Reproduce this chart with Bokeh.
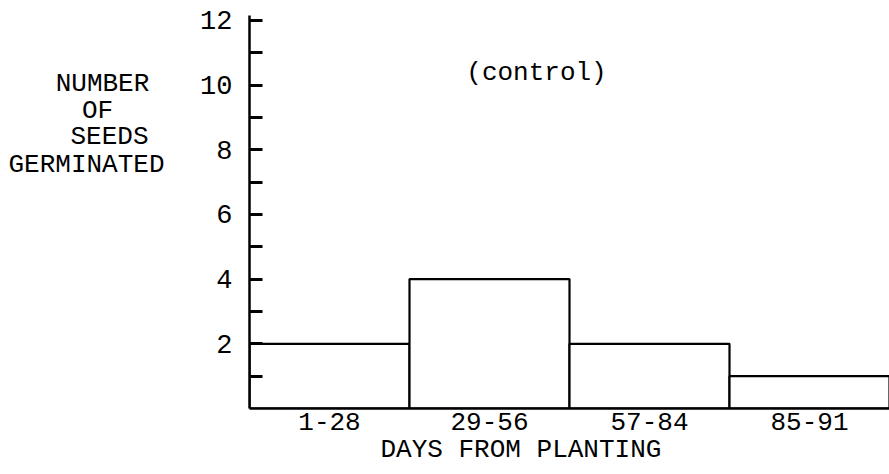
from bokeh.plotting import figure
from bokeh.layouts import row
from bokeh.models import Label, FixedTicker, Range1d, Title
from bokeh.core.properties import value
from bokeh.embed import file_html
from bokeh.resources import INLINE

# ---- data ----
categories = ["1-28", "29-56", "57-84", "85-91"]
seeds_germinated = [2, 4, 2, 1]
y_tick_labels = [2, 4, 6, 8, 10, 12]
y_minor_ticks = [1, 3, 5, 7, 9, 11]
title_text = "(control)"
x_title = "DAYS FROM PLANTING"
y_title_lines = ["NUMBER", "OF", "SEEDS", "GERMINATED"]

FONT = "Liberation Mono"
SIDE_W = 185
TOTAL_W = 889
H = 474

positions = list(range(len(categories)))

# ---- main chart ----
p = figure(width=TOTAL_W - SIDE_W, height=H,
           x_range=Range1d(-0.5, 3.5), y_range=Range1d(0, 12.15),
           output_backend="svg", toolbar_location=None,
           min_border_left=64, min_border_right=0,
           min_border_top=15, min_border_bottom=66)
p.outline_line_color = None
p.grid.visible = False
p.background_fill_color = "white"
p.border_fill_color = "white"

p.vbar(x=positions, top=seeds_germinated, bottom=0, width=1.0,
       fill_color="white", line_color="black", line_width=2.2)

# x axis
xa = p.xaxis[0]
xa.ticker = FixedTicker(ticks=positions)
xa.major_label_overrides = {i: c for i, c in zip(positions, categories)}
xa.major_tick_in = 0
xa.major_tick_out = 0
xa.minor_tick_in = 0
xa.minor_tick_out = 0
xa.axis_line_width = 2.5
xa.axis_line_color = "black"
xa.major_label_text_font = FONT
xa.major_label_text_font_size = "26px"
xa.major_label_text_color = "black"
xa.major_label_standoff = 4

# x title below the axis
p.add_layout(Title(text=x_title, align="left", offset=131, standoff=0,
                   text_font=FONT, text_font_size="26px",
                   text_font_style="normal", text_color="black"), "below")

# y axis
ya = p.yaxis[0]
ya.ticker = FixedTicker(ticks=y_tick_labels, minor_ticks=y_minor_ticks)
ya.major_tick_in = 13
ya.major_tick_out = 0
ya.minor_tick_in = 13
ya.minor_tick_out = 0
ya.major_tick_line_width = 3
ya.minor_tick_line_width = 3
ya.major_tick_line_color = "black"
ya.minor_tick_line_color = "black"
ya.axis_line_width = 2.5
ya.axis_line_color = "black"
ya.major_label_text_font = FONT
ya.major_label_text_font_size = "27px"
ya.major_label_text_color = "black"
ya.major_label_standoff = 17

# "(control)" inside the frame
def dx(px):
    return (px - 249) / (640 / 4.0) - 0.5

def dy(py):
    return (408 - py) / (393 / 12.15)

p.add_layout(Label(x=dx(536), y=dy(72), text=title_text, text_font=FONT,
                   text_font_size="26px", text_color="black",
                   text_align="center", text_baseline="middle"))

# ---- side panel holding the horizontal y title ----
side = figure(width=SIDE_W, height=H, x_range=Range1d(0, SIDE_W),
              y_range=Range1d(H, 0), output_backend="svg",
              toolbar_location=None, min_border=0)
side.axis.visible = False
side.grid.visible = False
side.outline_line_color = None
side.background_fill_color = "white"
side.border_fill_color = "white"
side.text(x=[102, 97, 109, 86], y=[83, 115, 146, 180], text=y_title_lines,
          text_font=value(FONT), text_font_size=value("26px"),
          text_color="black", text_align="center", text_baseline="middle")

layout = row(side, p, spacing=0)
open("out.html", "w").write(file_html(layout, INLINE))
